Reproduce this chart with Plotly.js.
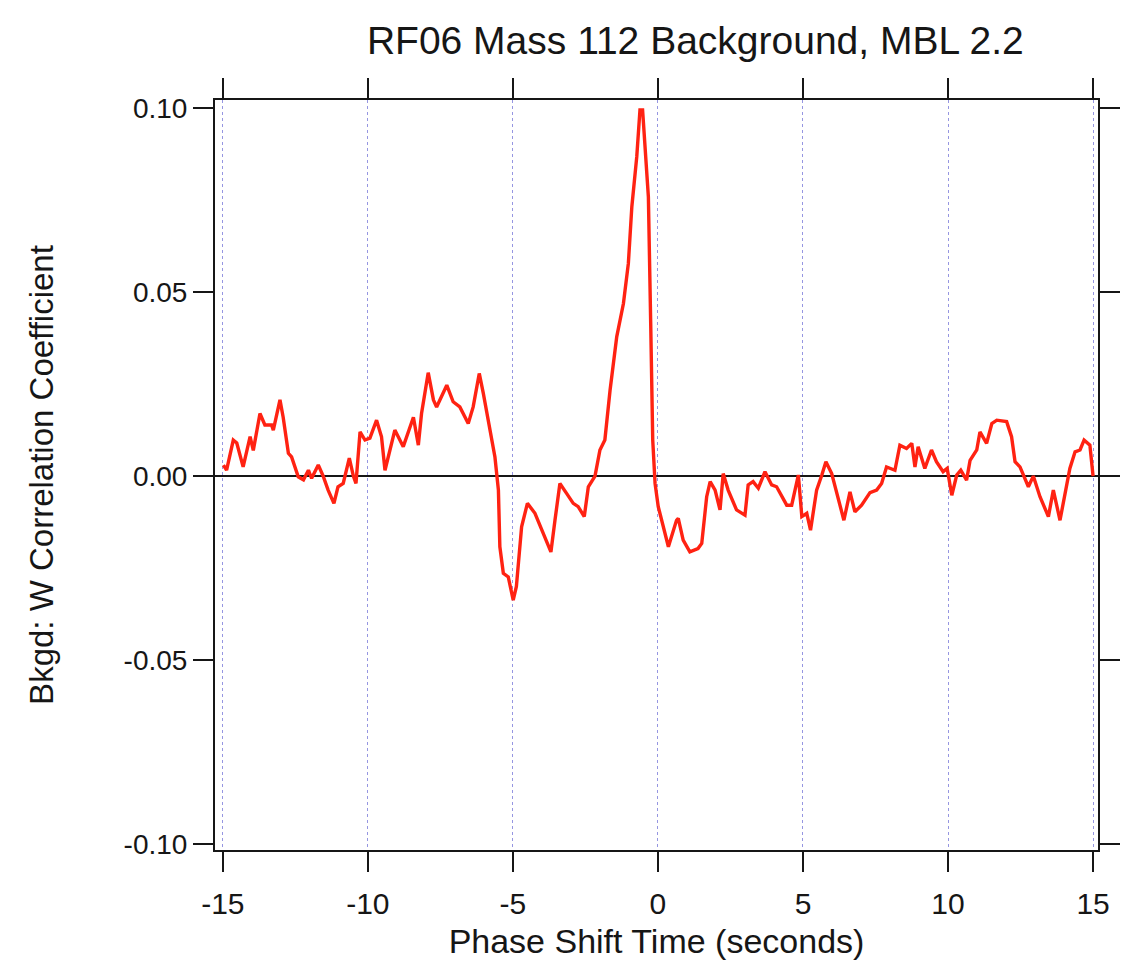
<!DOCTYPE html>
<html>
<head>
<meta charset="utf-8">
<script src="https://cdn.plot.ly/plotly-3.0.1.min.js"></script>
<style>
  html, body { margin: 0; padding: 0; background: #fff; }
  #chart { width: 1127px; height: 968px; }
</style>
</head>
<body>
<div id="chart"></div>
<script>
// Phase shift (s) vs. background/W correlation coefficient, RF06 mass 112
const phaseShift = [
  -14.98, -14.87, -14.64, -14.52, -14.30, -14.06, -13.95, -13.72, -13.55, -13.32,
  -13.26, -13.03, -12.92, -12.74, -12.63, -12.40, -12.22, -12.05, -11.94, -11.71,
  -11.54, -11.37, -11.17, -11.03, -10.85, -10.64, -10.50, -10.41, -10.27, -10.10,
  -9.93, -9.70, -9.53, -9.41, -9.07, -8.78, -8.43, -8.26, -8.15, -7.92,
  -7.74, -7.63, -7.28, -7.06, -6.83, -6.54, -6.37, -6.16, -6.02, -5.79,
  -5.62, -5.50, -5.45, -5.33, -5.16, -4.99, -4.88, -4.70, -4.50, -4.24,
  -3.95, -3.69, -3.55, -3.38, -3.15, -2.92, -2.75, -2.54, -2.40, -2.17,
  -2.00, -1.83, -1.65, -1.42, -1.19, -1.02, -0.90, -0.73, -0.62, -0.53,
  -0.50, -0.33, -0.25, -0.18, -0.10, 0.01, 0.36, 0.64, 0.70, 0.87,
  1.10, 1.38, 1.51, 1.68, 1.80, 1.97, 2.14, 2.25, 2.42, 2.71,
  3.00, 3.11, 3.28, 3.46, 3.69, 3.92, 4.09, 4.44, 4.61, 4.84,
  4.96, 5.13, 5.26, 5.47, 5.65, 5.79, 5.99, 6.16, 6.41, 6.62,
  6.79, 7.02, 7.31, 7.54, 7.71, 7.88, 8.17, 8.34, 8.57, 8.75,
  8.86, 8.97, 9.20, 9.43, 9.60, 9.83, 9.97, 10.13, 10.30, 10.44,
  10.64, 10.76, 10.99, 11.10, 11.33, 11.51, 11.68, 12.02, 12.19, 12.31,
  12.48, 12.77, 12.94, 13.17, 13.46, 13.63, 13.86, 14.20, 14.38, 14.55,
  14.69, 14.89, 15.00
];
const corrCoef = [
  0.0030, 0.0016, 0.0098, 0.0090, 0.0025, 0.0107, 0.0070, 0.0170, 0.0139, 0.0139,
  0.0125, 0.0207, 0.0160, 0.0062, 0.0052, -0.0002, -0.0010, 0.0016, -0.0006, 0.0030,
  0.0000, -0.0038, -0.0074, -0.0029, -0.0020, 0.0049, 0.0000, -0.0020, 0.0120, 0.0098,
  0.0103, 0.0152, 0.0107, 0.0016, 0.0125, 0.0080, 0.0160, 0.0084, 0.0170, 0.0281,
  0.0207, 0.0188, 0.0247, 0.0202, 0.0188, 0.0143, 0.0188, 0.0279, 0.0225, 0.0125,
  0.0052, -0.0038, -0.0192, -0.0264, -0.0274, -0.0337, -0.0300, -0.0138, -0.0074, -0.0101,
  -0.0156, -0.0206, -0.0120, -0.0020, -0.0047, -0.0074, -0.0083, -0.0110, -0.0029, 0.0000,
  0.0071, 0.0098, 0.0234, 0.0379, 0.0469, 0.0578, 0.0732, 0.0868, 0.0995, 0.0995,
  0.0960, 0.0759, 0.0415, 0.0098, -0.0020, -0.0083, -0.0192, -0.0120, -0.0115, -0.0174,
  -0.0206, -0.0197, -0.0183, -0.0056, -0.0015, -0.0038, -0.0092, 0.0007, -0.0038, -0.0092,
  -0.0106, -0.0024, -0.0015, -0.0033, 0.0012, -0.0024, -0.0029, -0.0079, -0.0079, 0.0003,
  -0.0110, -0.0101, -0.0147, -0.0038, 0.0003, 0.0039, 0.0007, -0.0047, -0.0120, -0.0043,
  -0.0097, -0.0079, -0.0045, -0.0038, -0.0020, 0.0025, 0.0016, 0.0084, 0.0075, 0.0089,
  0.0025, 0.0080, 0.0021, 0.0071, 0.0039, 0.0012, 0.0021, -0.0052, 0.0003, 0.0016,
  -0.0011, 0.0043, 0.0071, 0.0120, 0.0089, 0.0143, 0.0152, 0.0148, 0.0107, 0.0039,
  0.0025, -0.0029, 0.0000, -0.0056, -0.0110, -0.0038, -0.0120, 0.0021, 0.0066, 0.0071,
  0.0098, 0.0084, 0.0000
];

const xTickVals = [-15, -10, -5, 0, 5, 10, 15];
const xTickText = ['-15', '-10', '-5', '0', '5', '10', '15'];
const yTickVals = [-0.10, -0.05, 0.00, 0.05, 0.10];
const yTickText = ['-0.10', '-0.05', '0.00', '0.05', '0.10'];

const chartTitle = 'RF06 Mass 112 Background, MBL 2.2';
const xTitle = 'Phase Shift Time (seconds)';
const yTitle = 'Bkgd: W Correlation Coefficient';

const FONT = 'Liberation Sans, Arial, sans-serif';
const INK = '#161616';

const trace = {
  type: 'scatter',
  mode: 'lines',
  x: phaseShift,
  y: corrCoef,
  line: { color: 'rgb(255,34,18)', width: 3.4 },
  hoverinfo: 'x+y'
};

const frameAxis = {
  showline: true,
  linecolor: INK,
  linewidth: 2,
  mirror: 'ticks',
  ticks: 'outside',
  ticklen: 20,
  tickwidth: 2,
  tickcolor: INK,
  fixedrange: true
};

const layout = {
  width: 1127,
  height: 968,
  margin: { l: 215, r: 29, t: 100, b: 118 },
  paper_bgcolor: '#fff',
  plot_bgcolor: '#fff',
  showlegend: false,
  title: {
    text: chartTitle,
    font: { family: FONT, size: 39, color: INK },
    xref: 'container', x: 0.617, xanchor: 'center',
    yref: 'container', y: 0.958, yanchor: 'middle'
  },
  xaxis: Object.assign({}, frameAxis, {
    range: [-15.27, 15.17],
    tickmode: 'array',
    tickvals: xTickVals,
    ticktext: xTickText,
    tickfont: { family: FONT, size: 30, color: INK },
    ticklabelstandoff: 6,
    showgrid: true,
    gridcolor: 'rgb(150,150,225)',
    griddash: 'dot',
    gridwidth: 1,
    zeroline: false,
    title: { text: xTitle, font: { family: FONT, size: 34, color: INK }, standoff: 10 }
  }),
  yaxis: Object.assign({}, frameAxis, {
    range: [-0.1016, 0.1022],
    tickmode: 'array',
    tickvals: yTickVals,
    ticktext: yTickText,
    tickfont: { family: FONT, size: 28, color: INK },
    showgrid: false,
    zeroline: true,
    zerolinecolor: INK,
    zerolinewidth: 2,
    title: { text: yTitle, font: { family: FONT, size: 33, color: INK }, standoff: 60 }
  })
};

Plotly.newPlot('chart', [trace], layout, { displayModeBar: false, staticPlot: true });
</script>
</body>
</html>
